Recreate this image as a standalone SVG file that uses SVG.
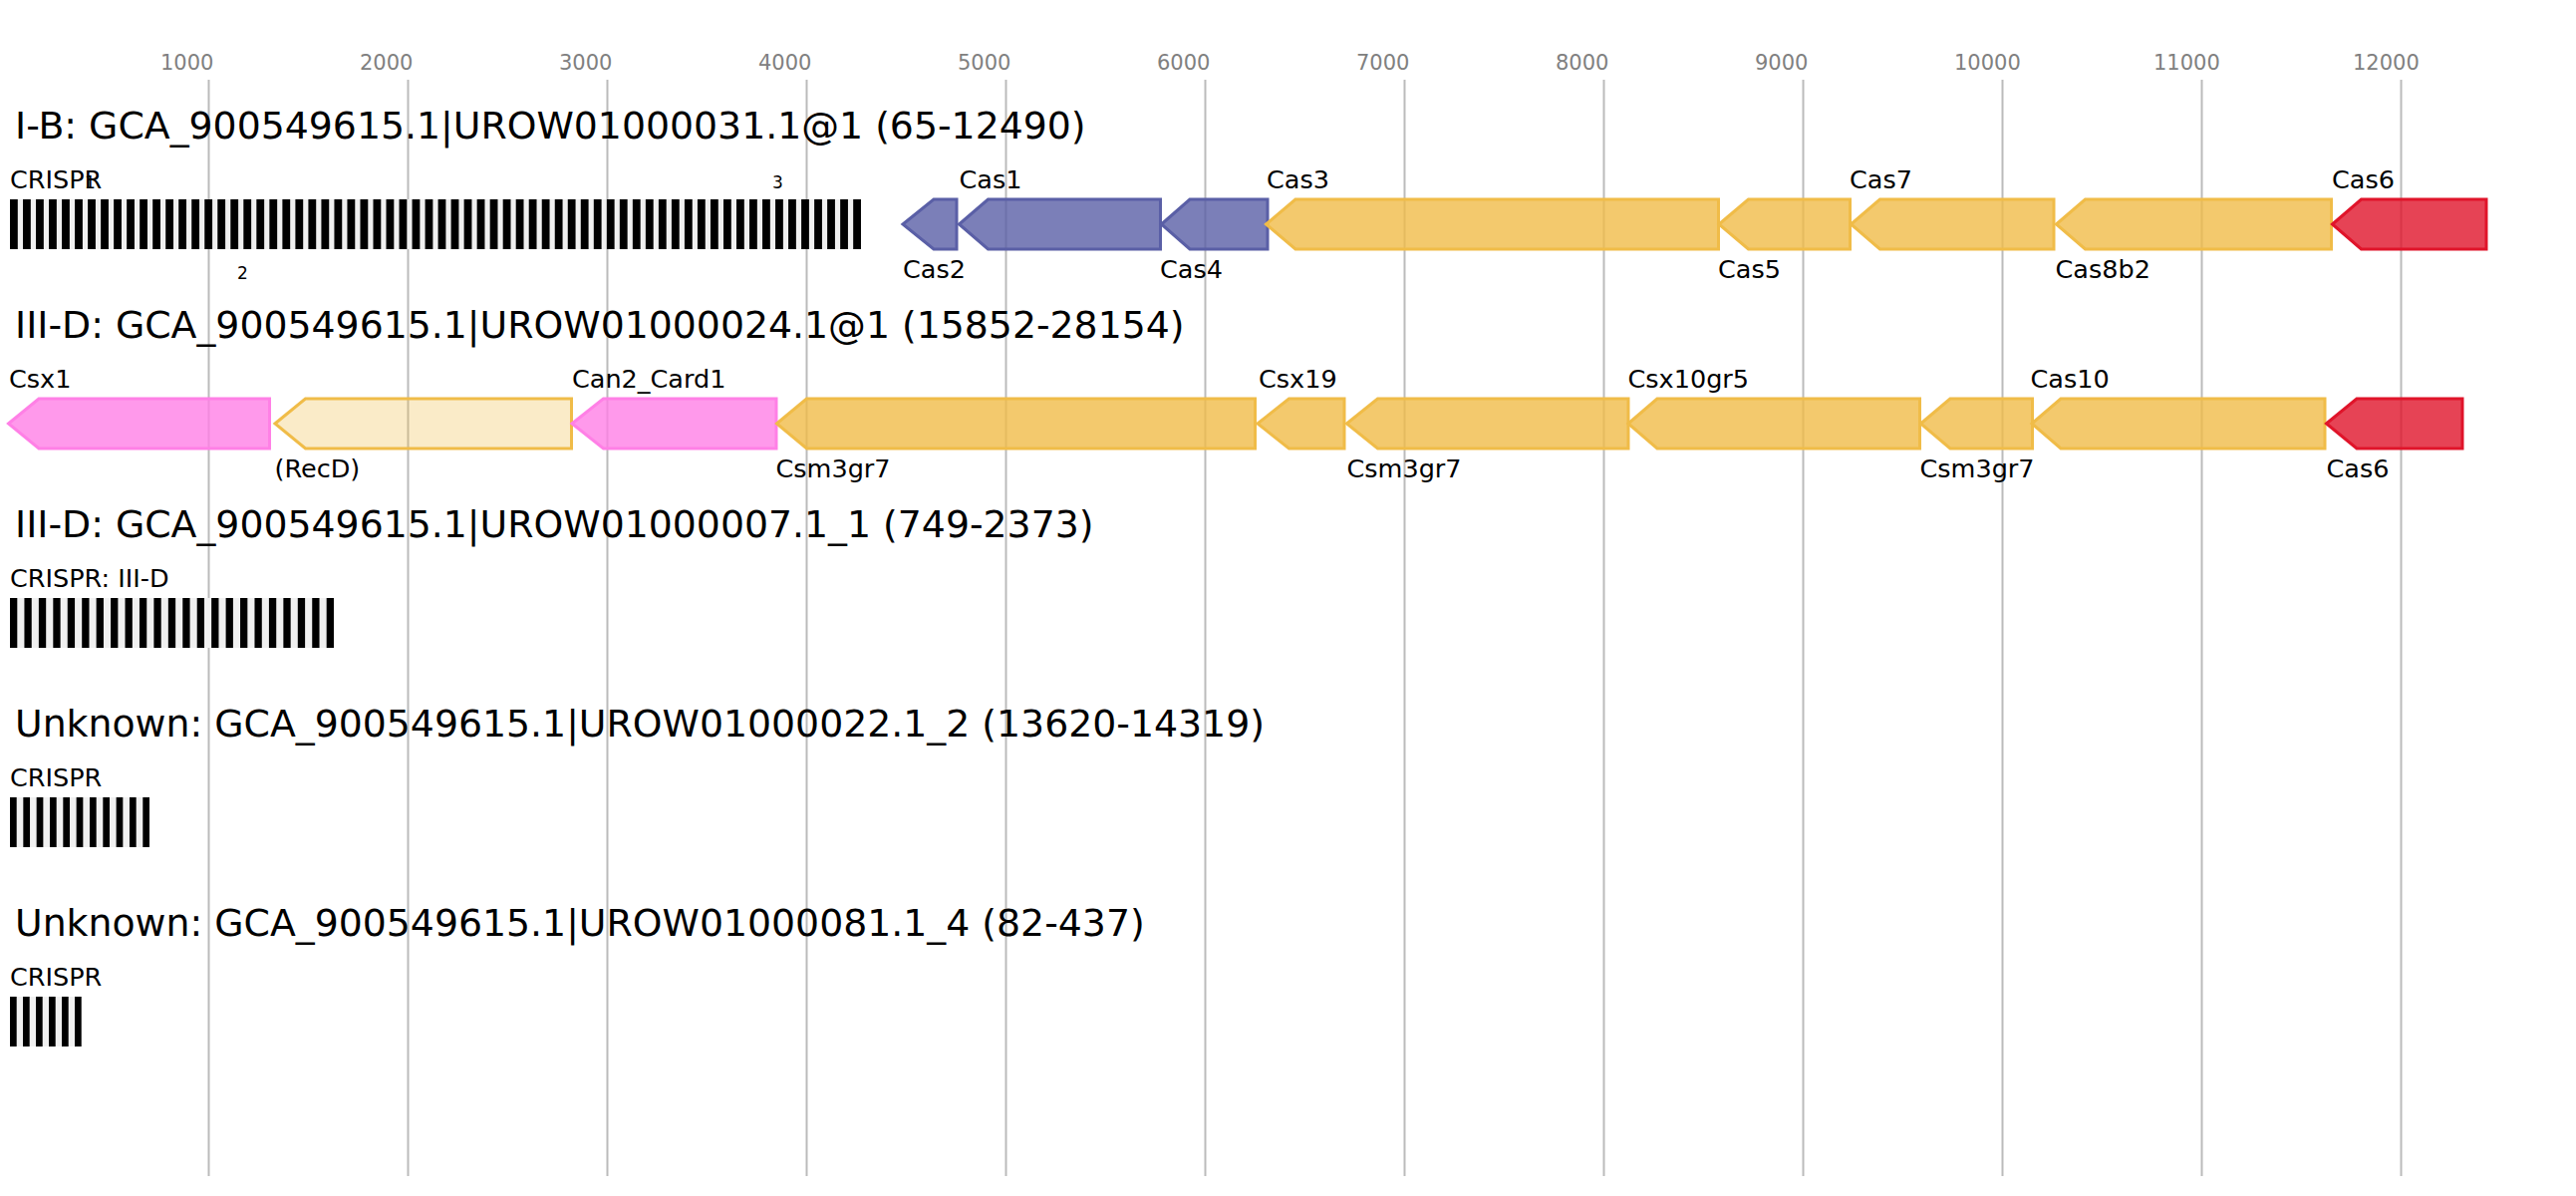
<svg xmlns="http://www.w3.org/2000/svg" width="2585" height="1200" viewBox="0 0 2585 1200">
<style>
text{font-family:"DejaVu Sans","Liberation Sans",sans-serif;fill:#000}
.tick{font-size:21px;fill:#808080}
.title{font-size:37.8px}
.lab{font-size:25.5px}
.small{font-size:17px}
.grid{stroke:#bbbbbb;stroke-width:2}
.g{stroke-width:3;stroke-linejoin:miter}
.blue{fill:#5a5fa6;fill-opacity:.8;stroke:#5a5fa6}
.yel{fill:#f0bc48;fill-opacity:.8;stroke:#f0bc48}
.red{fill:#e0142a;fill-opacity:.8;stroke:#e0142a}
.pink{fill:#ff80e6;fill-opacity:.8;stroke:#ff80e6}
.recd{fill:#f0bc48;fill-opacity:.3;stroke:#f0bc48}
.sp{fill:#f0f0f0}
.rp{fill:#000}
</style>
<rect width="2585" height="1200" fill="#fff"/>
<g id="axis">
<g class="grid">
<line x1="209.5" y1="80" x2="209.5" y2="1180"/>
<line x1="409.5" y1="80" x2="409.5" y2="1180"/>
<line x1="609.5" y1="80" x2="609.5" y2="1180"/>
<line x1="809.5" y1="80" x2="809.5" y2="1180"/>
<line x1="1009.5" y1="80" x2="1009.5" y2="1180"/>
<line x1="1209.5" y1="80" x2="1209.5" y2="1180"/>
<line x1="1409.5" y1="80" x2="1409.5" y2="1180"/>
<line x1="1609.5" y1="80" x2="1609.5" y2="1180"/>
<line x1="1809.5" y1="80" x2="1809.5" y2="1180"/>
<line x1="2009.5" y1="80" x2="2009.5" y2="1180"/>
<line x1="2209.5" y1="80" x2="2209.5" y2="1180"/>
<line x1="2409.5" y1="80" x2="2409.5" y2="1180"/>
</g>
<text class="tick" x="161" y="70">1000</text>
<text class="tick" x="361" y="70">2000</text>
<text class="tick" x="561" y="70">3000</text>
<text class="tick" x="761" y="70">4000</text>
<text class="tick" x="961" y="70">5000</text>
<text class="tick" x="1161" y="70">6000</text>
<text class="tick" x="1361" y="70">7000</text>
<text class="tick" x="1561" y="70">8000</text>
<text class="tick" x="1761" y="70">9000</text>
<text class="tick" x="1961" y="70">10000</text>
<text class="tick" x="2161" y="70">11000</text>
<text class="tick" x="2361" y="70">12000</text>
</g>

<g id="titles">
<text class="title" x="15" y="139">I-B: GCA_900549615.1|UROW01000031.1@1 (65-12490)</text>
<text class="title" x="15" y="339">III-D: GCA_900549615.1|UROW01000024.1@1 (15852-28154)</text>
<text class="title" x="15" y="539">III-D: GCA_900549615.1|UROW01000007.1_1 (749-2373)</text>
<text class="title" x="15" y="739">Unknown: GCA_900549615.1|UROW01000022.1_2 (13620-14319)</text>
<text class="title" x="15" y="939">Unknown: GCA_900549615.1|UROW01000081.1_4 (82-437)</text>
</g>

<g id="crispr1">
<text class="lab" x="10" y="189">CRISPR</text>
<text class="small" x="85" y="189">1</text>
<text class="small" x="775" y="189">3</text>
<text class="small" x="238" y="280">2</text>
<rect class="sp" x="10" y="200" width="854" height="50"/>
<g class="rp">
<rect x="10.00" y="200" width="7.8" height="50"/><rect x="23.02" y="200" width="7.8" height="50"/><rect x="36.04" y="200" width="7.8" height="50"/><rect x="49.05" y="200" width="7.8" height="50"/><rect x="62.07" y="200" width="7.8" height="50"/><rect x="75.09" y="200" width="7.8" height="50"/><rect x="88.11" y="200" width="7.8" height="50"/><rect x="101.13" y="200" width="7.8" height="50"/><rect x="114.14" y="200" width="7.8" height="50"/><rect x="127.16" y="200" width="7.8" height="50"/>
<rect x="140.18" y="200" width="7.8" height="50"/><rect x="153.20" y="200" width="7.8" height="50"/><rect x="166.22" y="200" width="7.8" height="50"/><rect x="179.23" y="200" width="7.8" height="50"/><rect x="192.25" y="200" width="7.8" height="50"/><rect x="205.27" y="200" width="7.8" height="50"/><rect x="218.29" y="200" width="7.8" height="50"/><rect x="231.31" y="200" width="7.8" height="50"/><rect x="244.32" y="200" width="7.8" height="50"/><rect x="257.34" y="200" width="7.8" height="50"/>
<rect x="270.36" y="200" width="7.8" height="50"/><rect x="283.38" y="200" width="7.8" height="50"/><rect x="296.40" y="200" width="7.8" height="50"/><rect x="309.41" y="200" width="7.8" height="50"/><rect x="322.43" y="200" width="7.8" height="50"/><rect x="335.45" y="200" width="7.8" height="50"/><rect x="348.47" y="200" width="7.8" height="50"/><rect x="361.49" y="200" width="7.8" height="50"/><rect x="374.50" y="200" width="7.8" height="50"/><rect x="387.52" y="200" width="7.8" height="50"/>
<rect x="400.54" y="200" width="7.8" height="50"/><rect x="413.56" y="200" width="7.8" height="50"/><rect x="426.58" y="200" width="7.8" height="50"/><rect x="439.59" y="200" width="7.8" height="50"/><rect x="452.61" y="200" width="7.8" height="50"/><rect x="465.63" y="200" width="7.8" height="50"/><rect x="478.65" y="200" width="7.8" height="50"/><rect x="491.67" y="200" width="7.8" height="50"/><rect x="504.68" y="200" width="7.8" height="50"/><rect x="517.70" y="200" width="7.8" height="50"/>
<rect x="530.72" y="200" width="7.8" height="50"/><rect x="543.74" y="200" width="7.8" height="50"/><rect x="556.76" y="200" width="7.8" height="50"/><rect x="569.77" y="200" width="7.8" height="50"/><rect x="582.79" y="200" width="7.8" height="50"/><rect x="595.81" y="200" width="7.8" height="50"/><rect x="608.83" y="200" width="7.8" height="50"/><rect x="621.85" y="200" width="7.8" height="50"/><rect x="634.86" y="200" width="7.8" height="50"/><rect x="647.88" y="200" width="7.8" height="50"/>
<rect x="660.90" y="200" width="7.8" height="50"/><rect x="673.92" y="200" width="7.8" height="50"/><rect x="686.94" y="200" width="7.8" height="50"/><rect x="699.95" y="200" width="7.8" height="50"/><rect x="712.97" y="200" width="7.8" height="50"/><rect x="725.99" y="200" width="7.8" height="50"/><rect x="739.01" y="200" width="7.8" height="50"/><rect x="752.03" y="200" width="7.8" height="50"/><rect x="765.04" y="200" width="7.8" height="50"/><rect x="778.06" y="200" width="7.8" height="50"/>
<rect x="791.08" y="200" width="7.8" height="50"/><rect x="804.10" y="200" width="7.8" height="50"/><rect x="817.12" y="200" width="7.8" height="50"/><rect x="830.13" y="200" width="7.8" height="50"/><rect x="843.15" y="200" width="7.8" height="50"/><rect x="856.17" y="200" width="7.8" height="50"/>
</g>
</g>

<g id="genes1">
<g id="Cas2"><polygon class="g blue" points="906,225 937,200 960,200 960,250 937,250"/><text class="lab" x="906" y="279">Cas2</text></g>
<g id="Cas1"><polygon class="g blue" points="962.5,225 991.5,200 1164.5,200 1164.5,250 991.5,250"/><text class="lab" x="962.5" y="189">Cas1</text></g>
<g id="Cas4"><polygon class="g blue" points="1165.5,225 1194,200 1272,200 1272,250 1194,250"/><text class="lab" x="1164" y="279">Cas4</text></g>
<g id="Cas3"><polygon class="g yel" points="1270.5,225 1300,200 1724.5,200 1724.5,250 1300,250"/><text class="lab" x="1271" y="189">Cas3</text></g>
<g id="Cas5"><polygon class="g yel" points="1725,225 1754.5,200 1856.5,200 1856.5,250 1754.5,250"/><text class="lab" x="1724" y="279">Cas5</text></g>
<g id="Cas7"><polygon class="g yel" points="1857.5,225 1886.5,200 2061,200 2061,250 1886.5,250"/><text class="lab" x="1856" y="189">Cas7</text></g>
<g id="Cas8b2"><polygon class="g yel" points="2063.5,225 2092.5,200 2339.5,200 2339.5,250 2092.5,250"/><text class="lab" x="2062.5" y="279">Cas8b2</text></g>
<g id="Cas6a"><polygon class="g red" points="2340.5,225 2369.5,200 2495,200 2495,250 2369.5,250"/><text class="lab" x="2340" y="189">Cas6</text></g>
</g>

<g id="genes2">
<g id="Csx1"><polygon class="g pink" points="8.5,425 39,400 270.5,400 270.5,450 39,450"/><text class="lab" x="9" y="389">Csx1</text></g>
<g id="RecD"><polygon class="g recd" points="276,425 306.5,400 573.5,400 573.5,450 306.5,450"/><text class="lab" x="275.5" y="479">(RecD)</text></g>
<g id="Can2_Card1"><polygon class="g pink" points="574,425 605.5,400 779,400 779,450 605.5,450"/><text class="lab" x="574" y="389">Can2_Card1</text></g>
<g id="Csm3gr7a"><polygon class="g yel" points="779.5,425 809.5,400 1259.5,400 1259.5,450 809.5,450"/><text class="lab" x="778.5" y="479">Csm3gr7</text></g>
<g id="Csx19"><polygon class="g yel" points="1262,425 1293.5,400 1349,400 1349,450 1293.5,450"/><text class="lab" x="1263" y="389">Csx19</text></g>
<g id="Csm3gr7b"><polygon class="g yel" points="1351.5,425 1382.5,400 1634,400 1634,450 1382.5,450"/><text class="lab" x="1351.5" y="479">Csm3gr7</text></g>
<g id="Csx10gr5"><polygon class="g yel" points="1634,425 1663,400 1926.5,400 1926.5,450 1663,450"/><text class="lab" x="1633.5" y="389">Csx10gr5</text></g>
<g id="Csm3gr7c"><polygon class="g yel" points="1927.5,425 1957,400 2039.5,400 2039.5,450 1957,450"/><text class="lab" x="1926.5" y="479">Csm3gr7</text></g>
<g id="Cas10"><polygon class="g yel" points="2039,425 2068,400 2333,400 2333,450 2068,450"/><text class="lab" x="2037.5" y="389">Cas10</text></g>
<g id="Cas6b"><polygon class="g red" points="2334.5,425 2365,400 2471,400 2471,450 2365,450"/><text class="lab" x="2334.5" y="479">Cas6</text></g>
</g>

<g id="crispr3">
<text class="lab" x="10" y="589">CRISPR: III-D</text>
<rect class="sp" x="10" y="600" width="325" height="50"/>
<g class="rp">
<rect x="10" y="600" width="7.3" height="50"/><rect x="24.44" y="600" width="7.3" height="50"/><rect x="38.88" y="600" width="7.3" height="50"/><rect x="53.32" y="600" width="7.3" height="50"/><rect x="67.76" y="600" width="7.3" height="50"/><rect x="82.2" y="600" width="7.3" height="50"/><rect x="96.64" y="600" width="7.3" height="50"/><rect x="111.08" y="600" width="7.3" height="50"/><rect x="125.52" y="600" width="7.3" height="50"/><rect x="139.96" y="600" width="7.3" height="50"/><rect x="154.4" y="600" width="7.3" height="50"/><rect x="168.84" y="600" width="7.3" height="50"/>
<rect x="183.28" y="600" width="7.3" height="50"/><rect x="197.72" y="600" width="7.3" height="50"/><rect x="212.16" y="600" width="7.3" height="50"/><rect x="226.6" y="600" width="7.3" height="50"/><rect x="241.04" y="600" width="7.3" height="50"/><rect x="255.48" y="600" width="7.3" height="50"/><rect x="269.92" y="600" width="7.3" height="50"/><rect x="284.36" y="600" width="7.3" height="50"/><rect x="298.8" y="600" width="7.3" height="50"/><rect x="313.24" y="600" width="7.3" height="50"/><rect x="327.68" y="600" width="7.3" height="50"/>
</g>
</g>

<g id="crispr4">
<text class="lab" x="10" y="789">CRISPR</text>
<rect class="sp" x="10" y="800" width="140" height="50"/>
<g class="rp">
<rect x="10" y="800" width="6.7" height="50"/><rect x="23.33" y="800" width="6.7" height="50"/><rect x="36.66" y="800" width="6.7" height="50"/><rect x="49.99" y="800" width="6.7" height="50"/><rect x="63.32" y="800" width="6.7" height="50"/><rect x="76.65" y="800" width="6.7" height="50"/><rect x="89.98" y="800" width="6.7" height="50"/><rect x="103.31" y="800" width="6.7" height="50"/><rect x="116.64" y="800" width="6.7" height="50"/><rect x="129.97" y="800" width="6.7" height="50"/><rect x="143.3" y="800" width="6.7" height="50"/>
</g>
</g>

<g id="crispr5">
<text class="lab" x="10" y="989">CRISPR</text>
<rect class="sp" x="10" y="1000" width="71.7" height="50"/>
<g class="rp">
<rect x="10" y="1000" width="6.7" height="50"/><rect x="23" y="1000" width="6.7" height="50"/><rect x="36" y="1000" width="6.7" height="50"/><rect x="49" y="1000" width="6.7" height="50"/><rect x="62" y="1000" width="6.7" height="50"/><rect x="75" y="1000" width="6.7" height="50"/>
</g>
</g>
<g id="connectors"/>
</svg>
